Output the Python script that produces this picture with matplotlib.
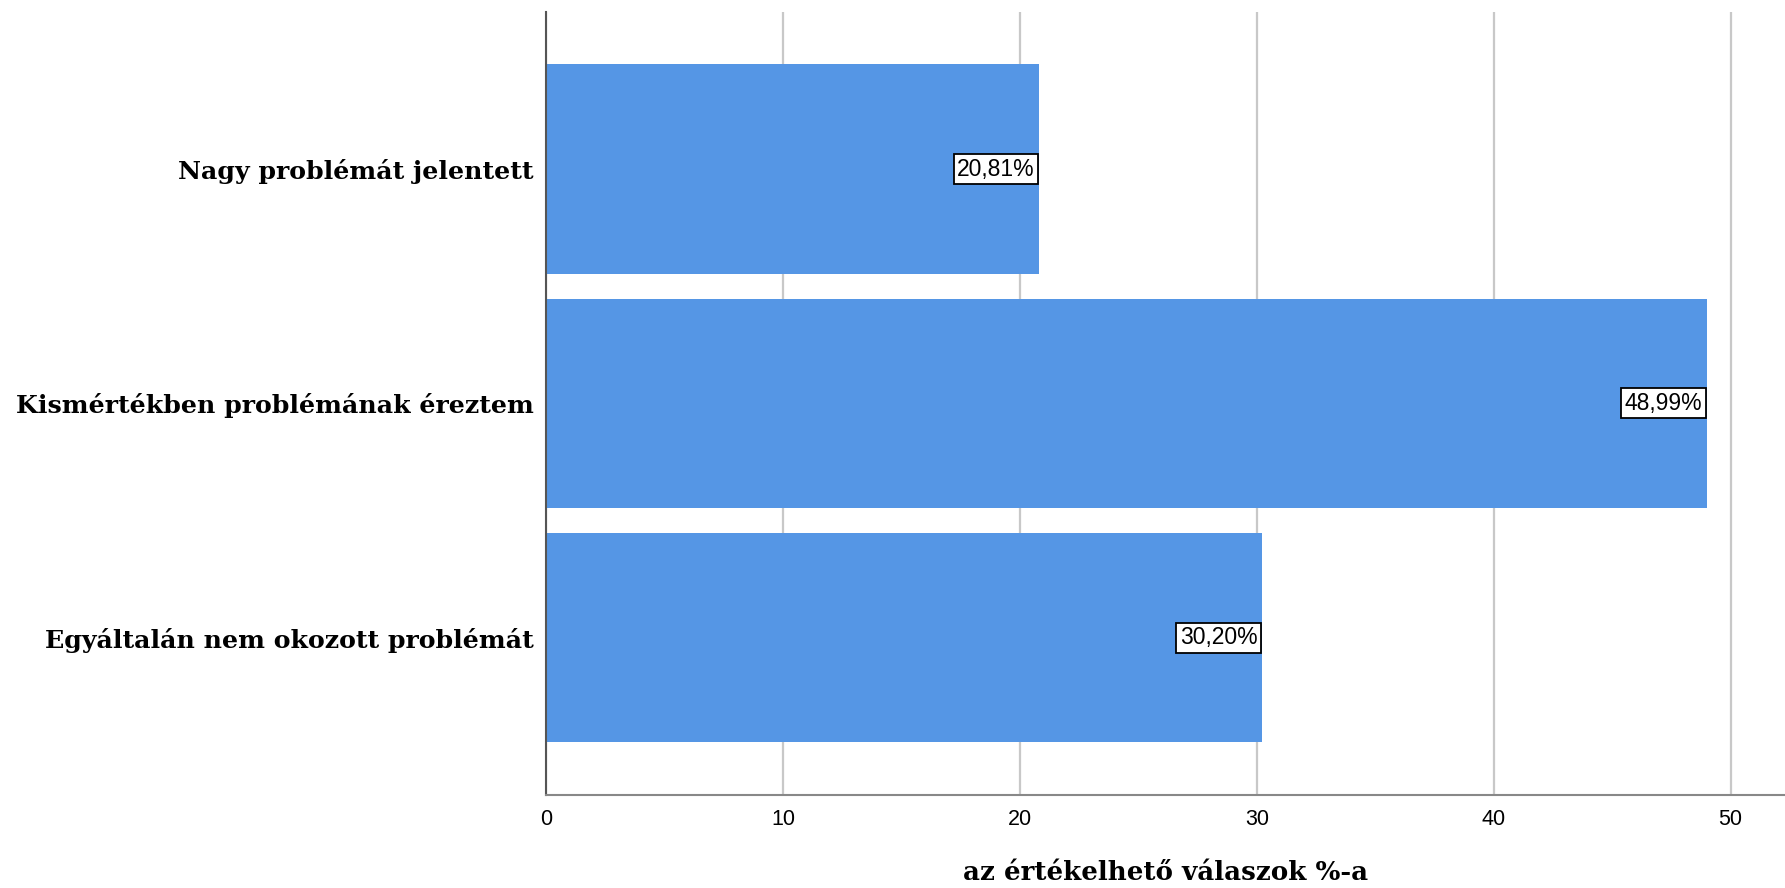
import matplotlib.pyplot as plt

# Adatok (alulról felfelé)
kategoriak = ["Egyáltalán nem okozott problémát",
              "Kismértékben problémának éreztem",
              "Nagy problémát jelentett"]
ertekek = [30.20, 48.99, 20.81]
cimkek = ["30,20%", "48,99%", "20,81%"]
xticks = [0, 10, 20, 30, 40, 50]

fig = plt.figure(figsize=(17.85, 8.88), dpi=100)
ax = fig.add_axes([0.306, 0.105, 0.694, 0.8815])

pos = list(range(len(kategoriak)))
ax.barh(pos, ertekek, height=0.894, color="#5596e5", zorder=2)

for p, v, c in zip(pos, ertekek, cimkek):
    ax.annotate(c, xy=(v, p), xytext=(-3, 0), textcoords="offset points",
                ha="right", va="center", fontsize=16.5, family="Liberation Sans",
                bbox=dict(boxstyle="square,pad=0.15", fc="white", ec="black", lw=1.3),
                zorder=3)

ax.set_xlim(0, 52.3)
ax.set_ylim(-0.67, 2.67)
ax.set_xticks(xticks)
ax.set_xticklabels([str(t) for t in xticks], family="Liberation Sans", fontsize=15.5)
ax.set_yticks(pos)
ax.set_yticklabels(kategoriak, family="DejaVu Serif", fontweight="bold", fontsize=18.2)
ax.tick_params(axis="x", length=0, pad=10)
ax.tick_params(axis="y", length=0, pad=9)

ax.grid(axis="x", color="#c8c8c8", lw=1.6, zorder=0)
ax.set_axisbelow(True)
for s in ["top", "right"]:
    ax.spines[s].set_visible(False)
ax.spines["left"].set_color("#555555")
ax.spines["left"].set_linewidth(1.5)
ax.spines["bottom"].set_color("#888888")
ax.spines["bottom"].set_linewidth(1.5)

ax.set_xlabel("az értékelhető válaszok %-a", family="DejaVu Serif",
              fontweight="bold", fontsize=18.8, labelpad=22)

fig.savefig("out.png", dpi=100)
